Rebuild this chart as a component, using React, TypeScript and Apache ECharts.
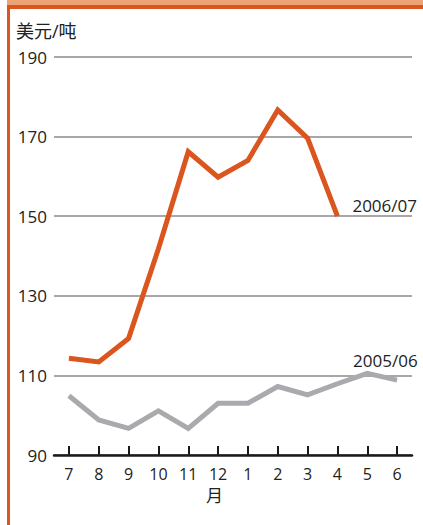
import React, { useEffect, useRef } from "react";
import * as echarts from "echarts";

const months = ["7", "8", "9", "10", "11", "12", "1", "2", "3", "4", "5", "6"];
const season0607 = [114.3, 113.4, 119.3, 141.8, 166.2, 159.8, 164, 176.7, 169.6, 150];
const season0506 = [104.9, 98.8, 96.7, 101.1, 96.7, 103, 103, 107.2, 105.1, 107.9, 110.5, 108.8];
const seriesNames = ["2006/07", "2005/06"];
const yTicks = { min: 90, max: 190, interval: 20 };
const unitLabel = "美元/吨";
const xName = "月";

const FONT = "'Open Sans', 'Noto Sans CJK SC', sans-serif";

export default function App() {
  const ref = useRef<HTMLDivElement>(null);
  useEffect(() => {
    if (!ref.current) return;
    const chart = echarts.init(ref.current, null, { renderer: "svg" });
    chart.setOption({
      animation: false,
      backgroundColor: "#ffffff",
      grid: { left: 54, right: 11, top: 57, bottom: 70 },
      graphic: [
        { type: "rect", shape: { x: 7, y: 0, width: 416, height: 6 }, style: { fill: "#eea374" } },
        { type: "rect", shape: { x: 7, y: 5, width: 416, height: 4 }, style: { fill: "#da561e" } },
        { type: "rect", shape: { x: 7, y: 5, width: 3, height: 520 }, style: { fill: "#da561e" } },
        {
          type: "text",
          left: 16,
          top: 22,
          style: { text: unitLabel, font: `18px ${FONT}`, fill: "#222" },
        },
        {
          type: "text",
          left: 206,
          top: 487,
          style: { text: xName, font: `17px ${FONT}`, fill: "#222" },
        },
      ],
      xAxis: {
        type: "category",
        data: months,
        boundaryGap: true,
        axisLine: { show: true, lineStyle: { color: "#1a1a1a", width: 2.5 } },
        axisTick: {
          show: true,
          inside: true,
          length: 9,
          alignWithLabel: true,
          interval: 0,
          lineStyle: { color: "#1a1a1a", width: 2 },
        },
        axisLabel: { color: "#222", fontSize: 16, fontFamily: FONT, margin: 11, interval: 0 },
      },
      yAxis: {
        type: "value",
        min: yTicks.min,
        max: yTicks.max,
        interval: yTicks.interval,
        axisLine: { show: false },
        axisTick: { show: false },
        axisLabel: { color: "#222", fontSize: 17, fontFamily: FONT, margin: 7 },
        splitLine: { lineStyle: { color: "#8a8a8a", width: 1.5 } },
      },
      series: [
        {
          name: seriesNames[1],
          type: "line",
          data: season0506,
          symbol: "none",
          lineStyle: { color: "#a9aaad", width: 5, join: "miter" },
          endLabel: {
            show: true,
            formatter: seriesNames[1],
            color: "#222",
            fontSize: 17,
            fontFamily: FONT,
            offset: [-52, -20],
          },
        },
        {
          name: seriesNames[0],
          type: "line",
          data: season0607,
          symbol: "none",
          lineStyle: { color: "#da561e", width: 5, join: "miter" },
          endLabel: {
            show: true,
            formatter: seriesNames[0],
            color: "#222",
            fontSize: 17,
            fontFamily: FONT,
            offset: [7, -11],
          },
        },
      ],
    });
    return () => chart.dispose();
  }, []);
  return <div ref={ref} style={{ position: "absolute", left: 0, top: 0, width: 423, height: 525 }} />;
}
